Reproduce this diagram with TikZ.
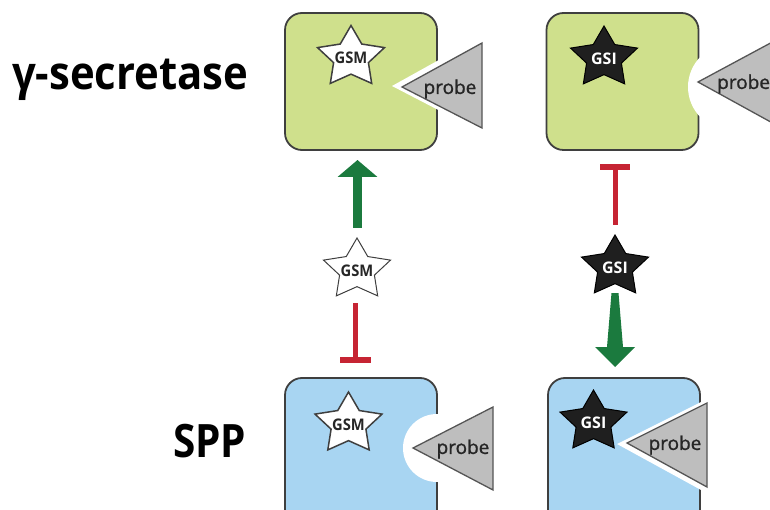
\documentclass[tikz,border=0pt]{standalone}
\usepackage{fontspec}
\setmainfont{Open Sans}
\newfontfamily\probefont[FakeBold=1.2]{Open Sans}
\usetikzlibrary{arrows.meta,calc}

\definecolor{gsbox}{HTML}{CFE08C}
\definecolor{sppbox}{HTML}{A8D5F2}
\definecolor{edgegray}{HTML}{3F3F3F}
\definecolor{probefill}{HTML}{BEBEBE}
\definecolor{probeedge}{HTML}{555555}
\definecolor{actgreen}{HTML}{1B7A3E}
\definecolor{inhred}{HTML}{C62433}
\definecolor{inkgray}{HTML}{262626}

% five-pointed star outline of outer radius #1, centred on the origin
\newcommand\staroutline[1]{(270:#1) -- (306:{0.52*#1}) -- (342:#1) -- (18:{0.52*#1}) -- (54:#1) -- (90:{0.52*#1}) -- (126:#1) -- (162:{0.52*#1}) -- (198:#1) -- (234:{0.52*#1}) -- cycle}
% star with style #1 centred at (#2) with radius #3
\newcommand\drawstar[3]{\path[#1, shift={(#2)}, xscale=1.1] \staroutline{#3};}

\tikzset{
  enzyme/.style={draw=edgegray, line width=1.8pt, rounded corners=17pt, minimum width=152pt, inner sep=0pt},
  gsbody/.style={enzyme, fill=gsbox, minimum height=137pt},
  sppbody/.style={enzyme, fill=sppbox, minimum height=154pt},
  probeshape/.style={fill=probefill, draw=probeedge, line width=1.3pt, line join=miter},
  probetext/.style={font=\probefont\fontsize{19}{19}\selectfont, text=inkgray, inner sep=0pt},
  openstar/.style={fill=white, draw=edgegray, line width=1.5pt, line join=miter},
  thinstar/.style={fill=white, draw=edgegray, line width=1pt, line join=miter},
  solidstar/.style={fill=black!88, draw=black, line width=1pt, line join=miter},
  gsmtext/.style={font=\fontsize{16}{16}\bfseries, text=inkgray, inner sep=0pt},
  gsitext/.style={font=\fontsize{16}{16}\bfseries, text=white, inner sep=0pt},
  rowlabel/.style={font=\fontsize{46}{46}\bfseries, anchor=base west, inner sep=0pt},
  inhline/.style={draw=inhred, line width=5pt},
  inhbar/.style={draw=inhred, line width=6pt},
  actarrow/.style={draw=actgreen, line width=9pt, -{Triangle[width=39pt,length=17pt]}},
}

\begin{document}
\begin{tikzpicture}[x=1pt,y=-1pt]
\useasboundingbox (0,0) rectangle (770,510);
\clip (0,0) rectangle (770,510);

% row labels
\node[rowlabel] (gslabel) at (12,90) {\scalebox{0.91}[1]{γ-secretase}};
\node[rowlabel] (spplabel) at (173,457) {\scalebox{0.88}[1]{SPP}};

% ---- gamma-secretase with modulator: probe fits the wedge ----
\node[gsbody] (gsA) at (361,81.5) {};
\fill[white] (392,86) -- (446,56) -- (446,114) -- cycle;
\drawstar{openstar}{351,57.5}{32}
\node[gsmtext] (gsmA) at (351,58) {\scalebox{0.92}[1]{GSM}};
\draw[probeshape] (402,87) -- (482,43) -- (482,128) -- cycle;
\node[probetext] (probeA) at (450,89) {probe};

% ---- gamma-secretase with inhibitor: pocket closed ----
\node[gsbody] (gsB) at (622.5,81.5) {};
\fill[white] (731,87) circle[radius=43];
\drawstar{solidstar}{604,58}{32}
\node[gsitext] (gsiB) at (604,59) {GSI};
\draw[probeshape] (698,82) -- (778,39) -- (778,126) -- cycle;
\node[probetext, anchor=west] (probeB) at (717,84) {probe};

% ---- SPP with modulator: pocket closed ----
\node[sppbody] (sppA) at (361,455) {};
\fill[white] (437,448) circle[radius=34];
\drawstar{openstar}{348.5,424}{32}
\node[gsmtext] (gsmC) at (348.5,425) {\scalebox{0.92}[1]{GSM}};
\draw[probeshape] (413,448) -- (493,407) -- (493,490) -- cycle;
\node[probetext] (probeC) at (463,449) {probe};

% ---- SPP with inhibitor: probe fits the wedge ----
\node[sppbody] (sppB) at (624,455) {};
\fill[white] (617,444) -- (712,396.5) -- (712,496) -- cycle;
\drawstar{solidstar}{593.5,422}{32}
\node[gsitext] (gsiD) at (593.5,423) {GSI};
\draw[probeshape] (627,443) -- (707,403) -- (707,487) -- cycle;
\node[probetext] (probeD) at (675,445) {probe};

% ---- free modulator between the left pair ----
\drawstar{thinstar}{357,270}{32}
\node[gsmtext] (gsmFree) at (357,271) {\scalebox{0.92}[1]{GSM}};
\coordinate (upTail) at (357.5,228);
\coordinate (upTip) at (357.5,160);
\draw[actarrow] (upTail) -- (upTip);
\coordinate (tLtop) at (355.5,303);
\coordinate (tLend) at (355.5,360);
\draw[inhline] (tLtop) -- (tLend);
\draw[inhbar] ($(tLend)+(-15.5,0)$) -- ($(tLend)+(15.5,0)$);

% ---- free inhibitor between the right pair ----
\drawstar{solidstar}{615,267}{32}
\node[gsitext] (gsiFree) at (615,268) {GSI};
\coordinate (tRend) at (615,167);
\coordinate (tRbot) at (615,225);
\draw[inhline] (tRbot) -- (tRend);
\draw[inhbar] ($(tRend)+(-15,0)$) -- ($(tRend)+(15,0)$);
\coordinate (dnTail) at (615,293);
\fill[actgreen, shift={(dnTail)}] (-3.5,0) -- (3.5,0) -- (8,54) -- (20,54) -- (0,74) -- (-20,54) -- (-8,54) -- cycle;
\end{tikzpicture}
\end{document}
